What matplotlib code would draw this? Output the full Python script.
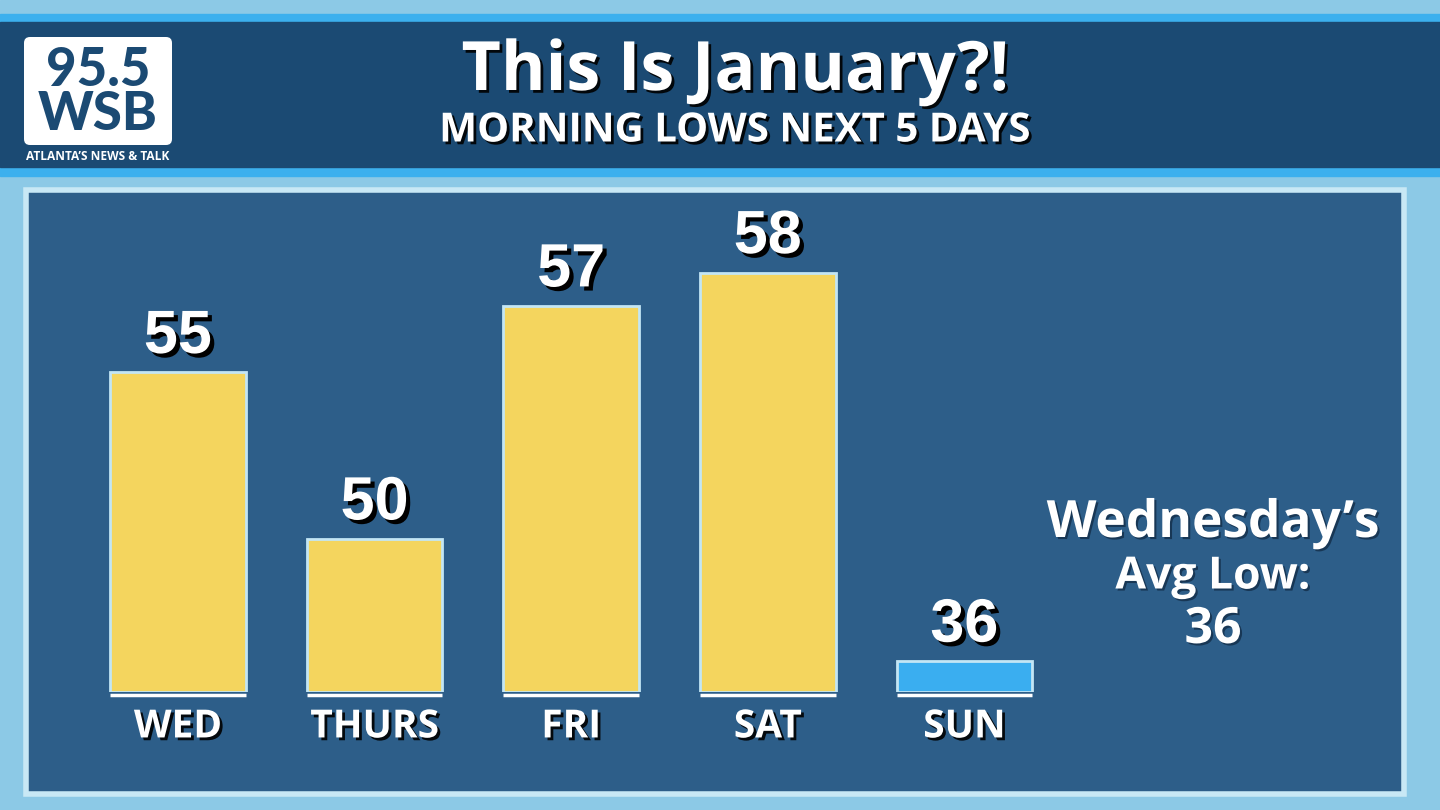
import matplotlib
matplotlib.use("Agg")
import matplotlib.pyplot as plt
import matplotlib.patheffects as pe
from matplotlib.patches import Rectangle, FancyBboxPatch

# data
days = ["WED", "THURS", "FRI", "SAT", "SUN"]
lows = [55, 50, 57, 58, 36]
bar_colors = ["#f4d55e", "#f4d55e", "#f4d55e", "#f4d55e", "#3aaef0"]
title = "This Is January?!"
subtitle = "MORNING LOWS NEXT 5 DAYS"
avg_lines = ["Wednesday\u2019s", "Avg Low:", "36"]

W, H = 1440, 810
fig = plt.figure(figsize=(W / 100, H / 100), dpi=100)

# background layer in pixel coordinates
bg = fig.add_axes([0, 0, 1, 1])
bg.set_xlim(0, W)
bg.set_ylim(H, 0)
bg.axis("off")
bg.add_patch(Rectangle((0, 0), W, H, color="#8cc9e6", zorder=0))
# header band
bg.add_patch(Rectangle((0, 14), W, 162, color="#3cb0ee", zorder=1))
bg.add_patch(Rectangle((0, 22), W, 145, color="#1b4a73", zorder=2))
# panel
bg.add_patch(Rectangle((26, 190), 1378, 604, facecolor="#2d5e89",
                       edgecolor="#c8e8f5", linewidth=4, zorder=1))

# logo
bg.add_patch(FancyBboxPatch((26, 39), 144, 104, boxstyle="round,pad=2,rounding_size=6",
                            facecolor="white", edgecolor="none", zorder=3))
bg.text(98, 70, "95.5", ha="center", va="center", fontsize=38, color="#1b4a73",
        family="Lato", weight="black", zorder=4)
bg.text(98, 115, "WSB", ha="center", va="center", fontsize=38, color="#1b4a73",
        family="Lato", weight="black", zorder=4)
bg.text(98, 157, "ATLANTA\u2019S NEWS & TALK", ha="center", va="center", fontsize=8.6,
        color="white", family="Open Sans", weight="bold", zorder=4)

shadow = [pe.withSimplePatchShadow(offset=(2, -2), shadow_rgbFace="black", alpha=0.9)]
soft = [pe.withSimplePatchShadow(offset=(1.5, -1.5), shadow_rgbFace="#0a1e33", alpha=0.6)]

bg.text(735, 72, title, ha="center", va="center", fontsize=49, color="white",
        family="Open Sans", weight="bold", path_effects=shadow, zorder=4)
bg.text(735, 131, subtitle, ha="center", va="center", fontsize=29, color="white",
        family="Open Sans", weight="bold", path_effects=shadow, zorder=4)

# side note
for txt, y, fs in zip(avg_lines, [524, 577, 630], [37, 32, 36]):
    bg.text(1213, y, txt, ha="center", va="center", fontsize=fs, color="white",
            family="Open Sans", weight="bold", path_effects=soft, zorder=4)

# bar chart axes, base level chosen so bars match the graphic
base = 45.4
top = 60.0
spacing = 196.6
x0 = 178 - spacing / 2
ax = fig.add_axes([x0 / W, (H - 692) / H, 5 * spacing / W, (692 - 206) / H])
ax.set_xlim(-0.5, 4.5)
ax.set_ylim(base, top)
ax.axis("off")
ax.patch.set_alpha(0)

# sun value is below the base, show a small stub like the graphic
shown = [v if v > base else base + 0.93 for v in lows]
xs = list(range(len(days)))
ax.bar(xs, [s - base for s in shown], bottom=base, width=0.69, color=bar_colors,
       edgecolor="#c3e6f5", linewidth=2, zorder=3)

for x, s, v, d in zip(xs, shown, lows, days):
    ax.text(x, s + 1.05, str(v), ha="center", va="center", fontsize=44,
            color="white", family="Liberation Sans", weight="bold",
            path_effects=[pe.withSimplePatchShadow(offset=(3, -3), shadow_rgbFace="black", alpha=1)],
            zorder=5)
    ax.plot([x - 0.345, x + 0.345], [base - 0.1, base - 0.1], color="white",
            linewidth=2.5, solid_capstyle="butt", clip_on=False, zorder=4)
    ax.text(x, base - 1.05, d, ha="center", va="center", fontsize=28, color="white",
            family="Open Sans", weight="bold", path_effects=shadow, clip_on=False,
            zorder=5)

fig.savefig("out.png", dpi=100)
